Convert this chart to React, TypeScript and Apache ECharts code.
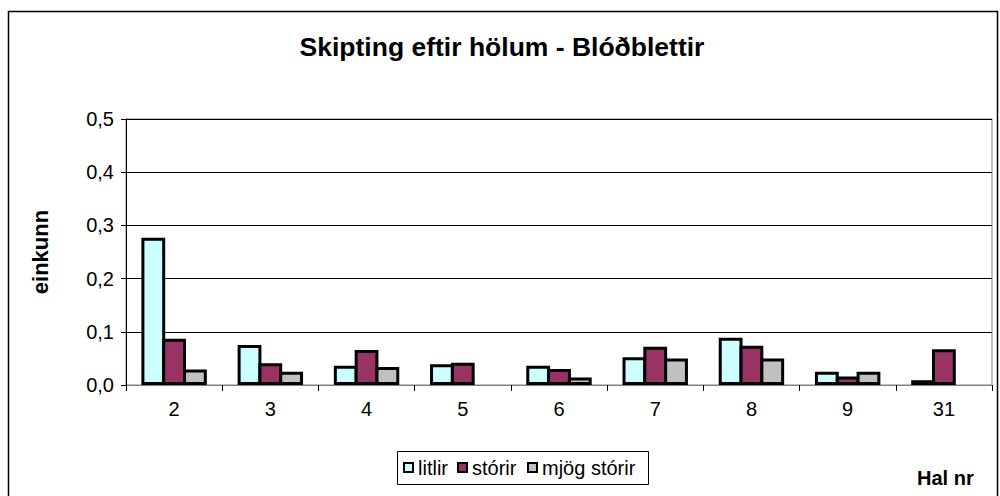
import React, { useEffect, useRef } from "react";
import * as echarts from "echarts";

const categories = ["2", "3", "4", "5", "6", "7", "8", "9", "31"];
const seriesNames = ["litlir", "stórir", "mjög stórir"];
const seriesColors = ["#CCFFFF", "#993366", "#C0C0C0"];
const litlir = [0.277, 0.075, 0.036, 0.039, 0.036, 0.052, 0.089, 0.025, 0.009];
const storir = [0.087, 0.041, 0.066, 0.042, 0.030, 0.072, 0.074, 0.016, 0.067];
const mjogStorir = [0.029, 0.025, 0.034, null, 0.014, 0.050, 0.050, 0.025, null];
const yTicks = { min: 0, max: 0.5, interval: 0.1 };

const FONT = "Liberation Sans, Arial, sans-serif";

export default function App() {
  const ref = useRef<HTMLDivElement>(null);
  useEffect(() => {
    if (!ref.current) return;
    const chart = echarts.init(ref.current, null, { renderer: "svg" });
    const barStyle = (color: string) => ({
      color,
      borderColor: "#000000",
      borderWidth: 3,
    });
    const data = [litlir, storir, mjogStorir];
    const legendSquareX = [404, 458, 528];
    const legendTextX = [418, 472, 542];
    const legendItems: any[] = [];
    seriesNames.forEach((name, i) => {
      legendItems.push({
        type: "rect",
        shape: { x: legendSquareX[i], y: 463, width: 9, height: 9 },
        style: { fill: seriesColors[i], stroke: "#000", lineWidth: 2 },
        silent: true,
      });
      legendItems.push({
        type: "text",
        x: legendTextX[i],
        y: 468,
        style: {
          text: name,
          fontFamily: FONT,
          fontSize: 20,
          fill: "#000",
          verticalAlign: "middle",
        },
        silent: true,
      });
    });
    chart.setOption({
      animation: false,
      backgroundColor: "#fff",
      textStyle: { fontFamily: FONT },
      title: {
        text: "Skipting eftir hölum - Blóðblettir",
        left: 502,
        textAlign: "center",
        top: 33,
        padding: 0,
        textStyle: { fontFamily: FONT, fontSize: 26.5, fontWeight: "bold", color: "#000" },
      },
      grid: {
        left: 126,
        right: 8,
        top: 119,
        bottom: 111,
        show: true,
        borderColor: "#808080",
        borderWidth: 1,
      },
      xAxis: {
        type: "category",
        data: categories,
        axisLine: { lineStyle: { color: "#808080", width: 1 } },
        axisTick: { show: true, length: 6, lineStyle: { color: "#000" } },
        axisLabel: { fontFamily: FONT, fontSize: 20, color: "#000", margin: 14 },
      },
      yAxis: {
        type: "value",
        min: yTicks.min,
        max: yTicks.max,
        interval: yTicks.interval,
        name: "einkunn",
        nameLocation: "middle",
        nameGap: 75,
        nameTextStyle: { fontFamily: FONT, fontSize: 22, fontWeight: "bold", color: "#000" },
        axisLine: { show: true, lineStyle: { color: "#000", width: 1 } },
        axisTick: { show: true, length: 5, lineStyle: { color: "#000" } },
        axisLabel: {
          fontFamily: FONT,
          fontSize: 20,
          color: "#000",
          margin: 12,
          formatter: (v: number) => v.toFixed(1).replace(".", ","),
        },
        splitLine: { show: true, lineStyle: { color: "#000", width: 1 } },
      },
      series: seriesNames.map((name, i) => ({
        name,
        type: "bar",
        data: data[i],
        itemStyle: barStyle(seriesColors[i]),
        barGap: "-12.5%",
        barCategoryGap: "32%",
      })),
      graphic: [
        {
          type: "rect",
          shape: { x: 8.5, y: 11.5, width: 989, height: 500 },
          style: { fill: "none", stroke: "#000", lineWidth: 1.5 },
          silent: true,
          z: 100,
        },
        {
          type: "rect",
          shape: { x: 397.5, y: 451.5, width: 251, height: 33 },
          style: { fill: "#fff", stroke: "#000", lineWidth: 1 },
          silent: true,
        },
        ...legendItems,
        {
          type: "text",
          x: 917,
          y: 468,
          style: { text: "Hal nr", fontFamily: FONT, fontSize: 20, fontWeight: "bold", fill: "#000" },
        },
      ],
    });
    return () => chart.dispose();
  }, []);
  return (
    <div
      ref={ref}
      style={{ position: "absolute", left: 0, top: 0, width: 1000, height: 496 }}
    />
  );
}
